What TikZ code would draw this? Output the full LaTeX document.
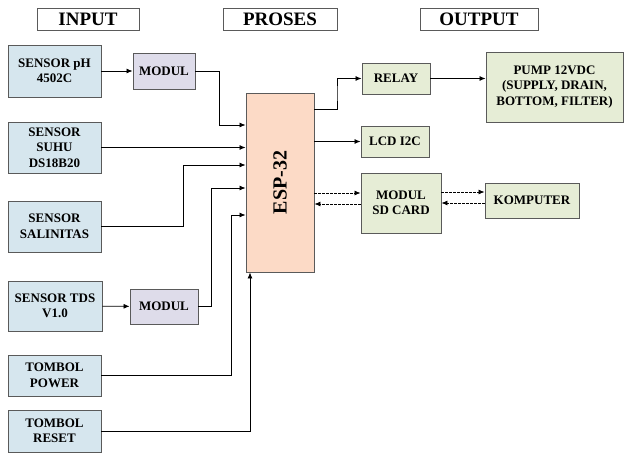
\documentclass[tikz,border=0pt]{standalone}
\usepackage{fontspec}
\setmainfont{Liberation Serif}
\usepackage{tikz}
\usetikzlibrary{arrows.meta,calc,positioning}

\definecolor{birumuda}{HTML}{D6E6EE}
\definecolor{ungumuda}{HTML}{DEDCEA}
\definecolor{oranyemuda}{HTML}{FCDAC6}
\definecolor{hijaumuda}{HTML}{E6EDD6}
\definecolor{garis}{HTML}{5A5A5A}

\begin{document}
\begin{tikzpicture}[x=1pt,y=-1pt,>={Latex[length=6pt,width=5pt]},
  blok/.style={draw=garis,line width=0.9pt,align=center,inner sep=1pt,
    font=\fontsize{13}{15.5}\selectfont\bfseries},
  sensor/.style={blok,fill=birumuda,minimum width=93pt},
  modul/.style={blok,fill=ungumuda},
  proses/.style={blok,fill=oranyemuda},
  keluaran/.style={blok,fill=hijaumuda},
  judul/.style={draw=garis,line width=0.9pt,minimum height=22pt,inner sep=0pt,
    font=\fontsize{19}{19}\selectfont\bfseries},
  arr/.style={->,line width=0.8pt},
  putus/.style={arr,dashed,dash pattern=on 2.5pt off 1.5pt}]
  \useasboundingbox (0,0) rectangle (624,455);

  % Judul kolom
  \node[judul,minimum width=102pt] (tin) at (88,19) {INPUT};
  \node[judul,minimum width=114pt] (tpr) at (280,19) {PROSES};
  \node[judul,minimum width=118pt] (tout) at (479,19) {OUTPUT};

  % Blok input
  \node[sensor,minimum height=52pt] (sph) at (54.5,71) {SENSOR pH\\4502C};
  \node[sensor,minimum height=51pt] (suhu) at (54.5,147.5) {SENSOR\\SUHU\\DS18B20};
  \node[sensor,minimum height=51pt] (sal) at (54.5,226.5) {SENSOR\\SALINITAS};
  \node[sensor,minimum height=50pt,minimum width=94pt] (tds) at (55,306) {SENSOR TDS\\V1.0};
  \node[sensor,minimum height=41pt] (power) at (54.5,375.5) {TOMBOL\\POWER};
  \node[sensor,minimum height=42pt] (reset) at (54.5,431) {TOMBOL\\RESET};

  % Modul pengondisi sinyal
  \node[modul,minimum width=62pt,minimum height=36pt] (mod1) at (164,71) {MODUL};
  \node[modul,minimum width=68pt,minimum height=35pt] (mod2) at (164,306.5) {MODUL};

  % Mikrokontroler
  \node[proses,minimum width=68pt,minimum height=179pt] (esp) at (280,182.5)
    {\fontsize{20}{20}\selectfont\rotatebox{90}{ESP-32}};

  % Blok output
  \node[keluaran,minimum width=68pt,minimum height=31pt] (relay) at (396,78.5) {RELAY};
  \node[keluaran,minimum width=137pt,minimum height=70pt] (pump) at (554.5,87)
    {PUMP 12VDC\\(SUPPLY, DRAIN,\\BOTTOM, FILTER)};
  \node[keluaran,minimum width=68pt,minimum height=31pt] (lcd) at (395,141.5) {LCD I2C};
  \node[keluaran,minimum width=80pt,minimum height=60pt] (sd) at (401,203) {MODUL\\SD CARD};
  \node[keluaran,minimum width=94pt,minimum height=35pt] (komp) at (532,200.5) {KOMPUTER};

  % Jalur input ke ESP-32
  \draw[arr] (sph) -- (mod1);
  \draw[arr] (mod1.east) -| (219,125) -- (esp.west |- 0,125);
  \draw[arr] (suhu.east) -- (esp.west |- suhu.east);
  \draw[arr] (sal.east) -| (183,165) -- (esp.west |- 0,165);
  \draw[arr] (tds) -- (mod2);
  \draw[arr] (mod2.east) -| (211,188) -- (esp.west |- 0,188);
  \draw[arr] (power.east) -| (231,215) -- (esp.west |- 0,215);
  \draw[arr] (reset.east) -| ([xshift=-30pt]esp.south);

  % Jalur ESP-32 ke output
  \draw[arr] (esp.east |- 0,109) -| (337,93) |- (relay.west);
  \draw[arr] (relay.east) -- (pump.west |- relay.east);
  \draw[arr] (esp.east |- lcd.west) -- (lcd.west);
  \draw[putus] (esp.east |- 0,193) -- (sd.west |- 0,193);
  \draw[putus] (sd.west |- 0,204) -- (esp.east |- 0,204);
  \draw[putus] (sd.east |- 0,192) -- (komp.west |- 0,192);
  \draw[putus] (komp.west |- 0,203) -- (sd.east |- 0,203);
\end{tikzpicture}
\end{document}
